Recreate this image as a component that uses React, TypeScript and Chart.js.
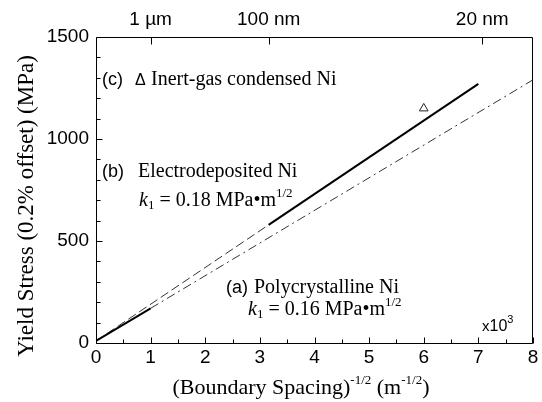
import React, { useEffect, useRef } from "react";
import { Chart, registerables } from "chart.js";

Chart.register(...registerables);

// Axis ranges / ticks
const X_MIN = 0;
const X_MAX = 8;
const Y_MIN = 0;
const Y_MAX = 1500;
const X_STEP = 1;
const Y_STEP = 500;
const TOP_TICK_VALUES = [1, 3.1623, 7.0711];
const TOP_TICK_LABELS = ["1 \u00b5m", "100 nm", "20 nm"];

// (a) Polycrystalline Ni : measured range (solid) and extrapolation (dash-dot)
const POLY_MEASURED_X = [0, 1];
const POLY_MEASURED_Y = [10, 170];
const POLY_EXTRAP_X = [1, 8];
const POLY_EXTRAP_Y = [170, 1290];

// (b) Electrodeposited Ni : extrapolation (dashed) and measured range (solid)
const ELEC_EXTRAP_X = [0, 3.16];
const ELEC_EXTRAP_Y = [10, 579];
const ELEC_MEASURED_X = [3.16, 7.0];
const ELEC_MEASURED_Y = [579, 1270];

// (c) Inert-gas condensed Ni
const IGC_X = [6.0];
const IGC_Y = [1150];

const SANS = "'Liberation Sans', Arial, sans-serif";
const SERIF = "'Liberation Serif', 'Times New Roman', serif";

type Part = { t: string; font: string; dy?: number };

function drawParts(ctx: CanvasRenderingContext2D, parts: Part[], x: number, y: number, align: "left" | "center") {
  let total = 0;
  for (const p of parts) {
    ctx.font = p.font;
    total += ctx.measureText(p.t).width;
  }
  let cx = align === "center" ? x - total / 2 : x;
  ctx.textAlign = "left";
  for (const p of parts) {
    ctx.font = p.font;
    ctx.fillText(p.t, cx, y + (p.dy || 0));
    cx += ctx.measureText(p.t).width;
  }
}

function seg(ctx: CanvasRenderingContext2D, x1: number, y1: number, x2: number, y2: number) {
  ctx.beginPath();
  ctx.moveTo(x1, y1);
  ctx.lineTo(x2, y2);
  ctx.stroke();
}

const pts = (xs: number[], ys: number[]) => xs.map((x, i) => ({ x, y: ys[i] }));

const decorPlugin = {
  id: "decor",
  afterDraw(chart: any) {
    const ctx: CanvasRenderingContext2D = chart.ctx;
    const { left, right, top, bottom } = chart.chartArea;
    const xs = chart.scales.x;
    const ys = chart.scales.y;
    const xt = chart.scales.x2;
    ctx.save();
    ctx.setLineDash([]);
    ctx.strokeStyle = "#000";
    ctx.fillStyle = "#000";
    ctx.lineWidth = 1;
    const L = Math.round(left) + 0.5;
    const R = Math.round(right) - 0.5;
    const T = Math.round(top) + 0.5;
    const B = Math.round(bottom) + 0.5;
    // frame
    seg(ctx, L, T, R, T);
    seg(ctx, R, T, R, B);
    seg(ctx, R, B, L, B);
    seg(ctx, L, B, L, T);
    // bottom x ticks (inward)
    for (let i = 0; i <= (X_MAX - X_MIN) * 2; i++) {
      const v = X_MIN + i * 0.5;
      const px = Math.round(xs.getPixelForValue(v)) + 0.5;
      const len = i % 2 === 0 ? 6 : 4;
      seg(ctx, px, B, px, B - len);
    }
    // left y ticks (inward)
    for (let i = 0; i <= (Y_MAX - Y_MIN) / 100; i++) {
      const v = Y_MIN + i * 100;
      const py = Math.round(ys.getPixelForValue(v)) + 0.5;
      const len = i % 5 === 0 ? 6 : 4;
      seg(ctx, L, py, L + len, py);
    }
    // top ticks
    for (const v of TOP_TICK_VALUES) {
      const px = Math.round(xt.getPixelForValue(v)) + 0.5;
      seg(ctx, px, T, px, T + 7);
    }

    ctx.textBaseline = "alphabetic";
    // x axis title
    const big = `22px ${SERIF}`;
    const sup = `13px ${SERIF}`;
    drawParts(
      ctx,
      [
        { t: "(Boundary Spacing)", font: big },
        { t: "-1/2", font: sup, dy: -10 },
        { t: " (m", font: big },
        { t: "-1/2", font: sup, dy: -10 },
        { t: ")", font: big },
      ],
      301,
      394,
      "center"
    );
    // y axis title
    ctx.save();
    ctx.translate(27, 206);
    ctx.rotate(-Math.PI / 2);
    ctx.textBaseline = "middle";
    drawParts(ctx, [{ t: "Yield Stress (0.2% offset) (MPa)", font: `23px ${SERIF}` }], 0, 0, "center");
    ctx.restore();

    ctx.textBaseline = "alphabetic";
    const ann = `20px ${SERIF}`;
    const annSans = `18px ${SANS}`;
    const annIt = `italic 20px ${SERIF}`;
    const sub = `13px ${SERIF}`;
    // (c)
    drawParts(ctx, [{ t: "(c)", font: annSans }], 102, 85, "left");
    drawParts(ctx, [{ t: "\u0394", font: `16px ${SANS}` }], 135, 85, "left");
    drawParts(ctx, [{ t: "Inert-gas condensed Ni", font: ann }], 151, 85, "left");
    // (b)
    drawParts(ctx, [{ t: "(b)", font: annSans }], 102, 177, "left");
    drawParts(ctx, [{ t: "Electrodeposited Ni", font: ann }], 138, 177, "left");
    drawParts(
      ctx,
      [
        { t: "k", font: annIt },
        { t: "1", font: sub, dy: 3 },
        { t: " = 0.18 MPa\u2022m", font: ann },
        { t: "1/2", font: sub, dy: -9 },
      ],
      139,
      206,
      "left"
    );
    // (a)
    drawParts(ctx, [{ t: "(a)", font: annSans }], 226, 293, "left");
    drawParts(ctx, [{ t: "Polycrystalline Ni", font: ann }], 254, 293, "left");
    drawParts(
      ctx,
      [
        { t: "k", font: annIt },
        { t: "1", font: sub, dy: 3 },
        { t: " = 0.16 MPa\u2022m", font: ann },
        { t: "1/2", font: sub, dy: -9 },
      ],
      248,
      315,
      "left"
    );
    // x10^3
    drawParts(
      ctx,
      [
        { t: "x", font: `15px ${SANS}` },
        { t: "10", font: `16px ${SANS}` },
        { t: "3", font: `11px ${SANS}`, dy: -8 },
      ],
      482,
      331,
      "left"
    );
    ctx.restore();
  },
};

export default function App() {
  const ref = useRef<HTMLCanvasElement | null>(null);
  useEffect(() => {
    if (!ref.current) return;
    const tickFont = { family: SANS, size: 19 };
    const chart = new Chart(ref.current, {
      type: "scatter",
      data: {
        datasets: [
          {
            label: "(a) measured",
            data: pts(POLY_MEASURED_X, POLY_MEASURED_Y),
            showLine: true,
            borderColor: "#000",
            borderWidth: 2,
            pointRadius: 0,
          },
          {
            label: "(a) extrapolated",
            data: pts(POLY_EXTRAP_X, POLY_EXTRAP_Y),
            showLine: true,
            borderColor: "#333",
            borderWidth: 1,
            borderDash: [9, 4, 2, 4],
            pointRadius: 0,
          },
          {
            label: "(b) extrapolated",
            data: pts(ELEC_EXTRAP_X, ELEC_EXTRAP_Y),
            showLine: true,
            borderColor: "#333",
            borderWidth: 1,
            borderDash: [9, 4],
            pointRadius: 0,
          },
          {
            label: "(b) measured",
            data: pts(ELEC_MEASURED_X, ELEC_MEASURED_Y),
            showLine: true,
            borderColor: "#000",
            borderWidth: 2,
            pointRadius: 0,
          },
          {
            label: "(c)",
            data: pts(IGC_X, IGC_Y),
            showLine: false,
            pointStyle: "triangle",
            pointRadius: 5,
            borderColor: "#222",
            backgroundColor: "rgba(0,0,0,0)",
            borderWidth: 1,
          },
        ],
      },
      options: {
        animation: false,
        responsive: false,
        devicePixelRatio: 1,
        layout: { padding: { left: 0, right: 9, top: 0, bottom: 0 } },
        plugins: { legend: { display: false }, tooltip: { enabled: false } },
        scales: {
          x: {
            type: "linear",
            position: "bottom",
            min: X_MIN,
            max: X_MAX,
            grid: { display: false, drawTicks: false },
            border: { display: false },
            ticks: {
              stepSize: X_STEP,
              color: "#000",
              font: tickFont,
              padding: 3,
              maxRotation: 0,
              callback: (v: any) => String(v),
            },
            afterFit: (s: any) => {
              s.height = 59;
            },
          },
          x2: {
            type: "linear",
            position: "top",
            min: X_MIN,
            max: X_MAX,
            grid: { display: false, drawTicks: false },
            border: { display: false },
            afterBuildTicks: (s: any) => {
              s.ticks = TOP_TICK_VALUES.map((v) => ({ value: v }));
            },
            ticks: {
              autoSkip: false,
              color: "#000",
              font: tickFont,
              padding: 6,
              maxRotation: 0,
              callback: (v: any) => {
                const i = TOP_TICK_VALUES.findIndex((t) => Math.abs(t - Number(v)) < 1e-6);
                return i >= 0 ? TOP_TICK_LABELS[i] : "";
              },
            },
            afterFit: (s: any) => {
              s.height = 37;
            },
          },
          y: {
            type: "linear",
            min: Y_MIN,
            max: Y_MAX,
            grid: { display: false, drawTicks: false },
            border: { display: false },
            ticks: {
              stepSize: Y_STEP,
              color: "#000",
              font: tickFont,
              padding: 7,
              callback: (v: any) => String(v),
            },
            afterFit: (s: any) => {
              s.width = 96;
            },
          },
        },
      },
      plugins: [decorPlugin],
    } as any);
    return () => chart.destroy();
  }, []);
  return (
    <div style={{ position: "absolute", left: 0, top: 0, width: 542, height: 402, background: "#fff" }}>
      <canvas ref={ref} width={542} height={402} style={{ display: "block" }} />
    </div>
  );
}
